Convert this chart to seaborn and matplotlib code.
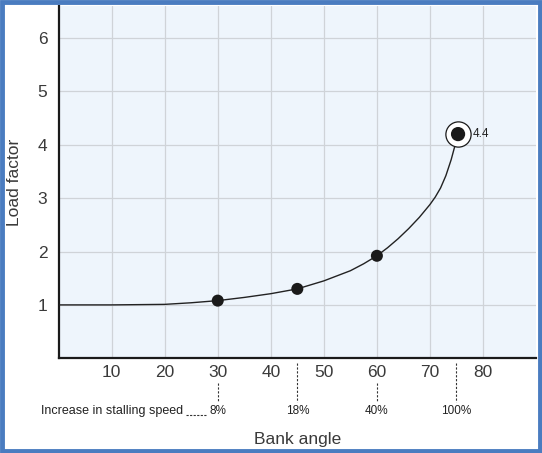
import matplotlib
matplotlib.use("Agg")
import matplotlib.pyplot as plt
import seaborn as sns
import pandas as pd
from matplotlib.patches import Rectangle

# Load factor curve
bank_angle = [0, 10, 20, 25, 30, 35, 40, 45, 50, 55, 57.5, 60, 62, 64, 66, 68, 70, 71, 72, 73, 74, 75.3]
load_factor = [1.0, 1.0, 1.01, 1.04, 1.08, 1.14, 1.21, 1.30, 1.45, 1.64, 1.77, 1.92,
               2.07, 2.24, 2.43, 2.64, 2.88, 3.02, 3.19, 3.42, 3.72, 4.2]

# Marked points
mark_angle = [30, 45, 60]
mark_load = [1.08, 1.30, 1.92]
peak_angle = 75.3
peak_load = 4.2
peak_label = "4.4"

# Increase in stalling speed
stall_angle = [30, 45, 60, 75]
stall_labels = ["8%", "18%", "40%", "100%"]

x_ticks = [10, 20, 30, 40, 50, 60, 70, 80]
y_ticks = [1, 2, 3, 4, 5, 6]

curve = pd.DataFrame({"angle": bank_angle, "load": load_factor})
marks = pd.DataFrame({"angle": mark_angle, "load": mark_load})

sns.set_theme(style="whitegrid")
plt.rcParams["font.family"] = ["Liberation Sans", "DejaVu Sans"]

fig = plt.figure(figsize=(5.42, 4.53), dpi=100)
ax = fig.add_axes([0.1081, 0.2091, 0.8809, 0.7777])
ax.set_facecolor("#eef5fc")

sns.lineplot(data=curve, x="angle", y="load", ax=ax, color="#222222", linewidth=1.0, zorder=3)
sns.scatterplot(data=marks, x="angle", y="load", ax=ax, color="#1a1a1a", s=75, edgecolor="none", zorder=4)
ax.scatter([peak_angle], [peak_load], s=330, facecolor="white", edgecolor="#1a1a1a", linewidth=0.9, zorder=5)
ax.scatter([peak_angle], [peak_load], s=105, color="#1a1a1a", edgecolor="none", zorder=6)
ax.text(peak_angle + 2.7, peak_load, peak_label, fontsize=8.5, color="#222222", va="center", ha="left")

ax.set_xlim(0, 90)
ax.set_ylim(0, 6.6)
ax.set_xticks(x_ticks)
ax.set_yticks(y_ticks)
ax.grid(True, color="#cfd3d8", linewidth=0.9)
ax.tick_params(axis="both", length=0, labelsize=12.5, labelcolor="#3a3a3a")
ax.tick_params(axis="x", pad=5)
ax.tick_params(axis="y", pad=8)
for side in ["top", "right"]:
    ax.spines[side].set_visible(False)
for side in ["left", "bottom"]:
    ax.spines[side].set_color("#1a1a1a")
    ax.spines[side].set_linewidth(1.6)

ax.set_xlabel("Bank angle", fontsize=12.5, color="#3a3a3a", labelpad=37)
ax.set_ylabel("Load factor", fontsize=12.5, color="#3a3a3a", labelpad=11)

# dashed markers below the axis
for a, lab in zip(stall_angle, stall_labels):
    top = -0.46 if a % 10 == 0 else -0.09
    ax.plot([a, a], [top, -0.82], color="#333333", linewidth=0.8, linestyle=(0, (2, 1.5)), clip_on=False)
    ax.text(a, -0.99, lab, fontsize=8.5, color="#222222", ha="center", va="center", clip_on=False)

ax.text(-3.3, -0.99, "Increase in stalling speed", fontsize=9, color="#222222", ha="left", va="center")
ax.plot([24.1, 27.7], [-1.07, -1.07], color="#333333", linewidth=0.8, linestyle=(0, (2, 1.2)), clip_on=False)

# blue frame round the figure
fig.patches.append(Rectangle((0.003, 0.004), 0.994, 0.992, transform=fig.transFigure,
                             fill=False, edgecolor="#4a7cc0", linewidth=3.5))

plt.savefig("out.png", dpi=100)
